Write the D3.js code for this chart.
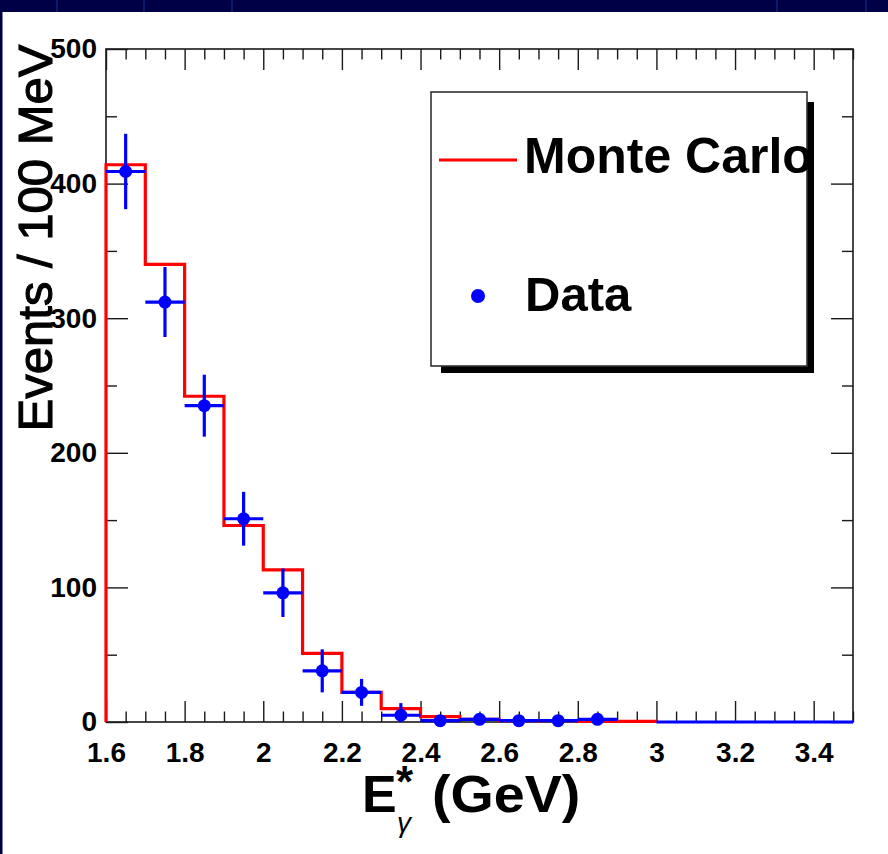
<!DOCTYPE html>
<html>
<head>
<meta charset="utf-8">
<script src="https://cdn.jsdelivr.net/npm/d3@7/dist/d3.min.js"></script>
<style>
  html, body { margin: 0; padding: 0; background: #ffffff; }
  svg { display: block; }
  text { font-family: "Liberation Sans", Arial, Helvetica, sans-serif; }
</style>
</head>
<body>
<svg id="chart" width="888" height="854"></svg>
<script>
// Photon energy spectrum: 100 MeV bins from 1.6 to 3.5 GeV
const binEdges = [1.6, 1.7, 1.8, 1.9, 2.0, 2.1, 2.2, 2.3, 2.4, 2.5, 2.6, 2.7, 2.8, 2.9, 3.0, 3.1, 3.2, 3.3, 3.4, 3.5];

// Monte Carlo expectation (bins 1.6 - 3.0 GeV)
const mcCounts = [414, 340, 242, 146, 113, 51, 22, 10, 4, 2, 1, 1, 0.5, 0.5];

// Measured events and statistical errors (null = bin not drawn)
const dataCounts = [409, 312, 235, 151, 96, 38, 22, 5, 1, 2, 1, 1, 2, null, 0, 0, 0, 0, 0];
const dataErrors = [28, 26, 23, 20, 18, 16, 10, 9, 1, 1.5, 1, 1, 1.5, null, 0, 0, 0, 0, 0];

// Axis ticks
const xMajorTicks = [1.6, 1.8, 2.0, 2.2, 2.4, 2.6, 2.8, 3.0, 3.2, 3.4];
const xTickLabels = ["1.6", "1.8", "2", "2.2", "2.4", "2.6", "2.8", "3", "3.2", "3.4"];
const yMajorTicks = [0, 100, 200, 300, 400, 500];
const yTickLabels = ["0", "100", "200", "300", "400", "500"];

const legendLabels = ["Monte Carlo", "Data"];

const svg = d3.select("#chart");
const W = 888, H = 854;

// slide background around the white canvas
svg.append("rect").attr("width", W).attr("height", H).attr("fill", "#ffffff");
svg.append("rect").attr("x", 0).attr("y", 0).attr("width", W).attr("height", 12).attr("fill", "#000046");
svg.append("rect").attr("x", 0).attr("y", 0).attr("width", 2.5).attr("height", H).attr("fill", "#000046");
[57, 144, 232, 777, 866].forEach(px => {
  svg.append("line").attr("x1", px).attr("x2", px).attr("y1", 0).attr("y2", 12)
    .attr("stroke", "#1c3a8c").attr("stroke-width", 1.2).attr("opacity", 0.8);
});

const frame = { left: 106, right: 853, top: 49, bottom: 722 };
const x = d3.scaleLinear().domain([1.6, 3.5]).range([frame.left, frame.right]);
const y = d3.scaleLinear().domain([0, 500]).range([frame.bottom, frame.top]);

const xMinor = d3.range(1.6, 3.5001, 0.05).map(v => +v.toFixed(2)).filter(v => !xMajorTicks.some(m => Math.abs(m - v) < 1e-6));
const yMinor = d3.range(50, 500, 100);

const xLen = 21, yLen = 22;
const axisColor = "#1a1a1a";

function styleAxis(g) {
  g.select(".domain").remove();
  g.selectAll(".tick line").attr("stroke", axisColor).attr("stroke-width", 1.4);
  g.selectAll(".tick text").attr("fill", "#000").attr("font-size", 28).attr("font-weight", "bold");
}

// bottom axis with labels
svg.append("g").attr("transform", `translate(0,${frame.bottom})`)
  .call(d3.axisBottom(x).tickValues(xMajorTicks).tickSize(-xLen).tickPadding(20)
    .tickFormat((d, i) => xTickLabels[i]))
  .call(styleAxis);
svg.append("g").attr("transform", `translate(0,${frame.bottom})`)
  .call(d3.axisBottom(x).tickValues(xMinor).tickSize(-xLen / 2).tickFormat(""))
  .call(styleAxis);
// top axis (ticks only)
svg.append("g").attr("transform", `translate(0,${frame.top})`)
  .call(d3.axisTop(x).tickValues(xMajorTicks).tickSize(-xLen).tickFormat(""))
  .call(styleAxis);
svg.append("g").attr("transform", `translate(0,${frame.top})`)
  .call(d3.axisTop(x).tickValues(xMinor).tickSize(-xLen / 2).tickFormat(""))
  .call(styleAxis);

// left axis with labels
svg.append("g").attr("transform", `translate(${frame.left},0)`)
  .call(d3.axisLeft(y).tickValues(yMajorTicks).tickSize(-yLen).tickPadding(9)
    .tickFormat((d, i) => yTickLabels[i]))
  .call(styleAxis);
svg.append("g").attr("transform", `translate(${frame.left},0)`)
  .call(d3.axisLeft(y).tickValues(yMinor).tickSize(-yLen / 2).tickFormat(""))
  .call(styleAxis);
// right axis (ticks only)
svg.append("g").attr("transform", `translate(${frame.right},0)`)
  .call(d3.axisRight(y).tickValues(yMajorTicks).tickSize(-yLen).tickFormat(""))
  .call(styleAxis);
svg.append("g").attr("transform", `translate(${frame.right},0)`)
  .call(d3.axisRight(y).tickValues(yMinor).tickSize(-yLen / 2).tickFormat(""))
  .call(styleAxis);

// frame
svg.append("rect")
  .attr("x", frame.left).attr("y", frame.top)
  .attr("width", frame.right - frame.left).attr("height", frame.bottom - frame.top)
  .attr("fill", "none").attr("stroke", axisColor).attr("stroke-width", 1.6);

// Monte Carlo histogram outline
const mcPts = [[binEdges[0], 0]];
mcCounts.forEach((c, i) => {
  mcPts.push([binEdges[i], c]);
  mcPts.push([binEdges[i + 1], c]);
});
mcPts.push([binEdges[mcCounts.length], 0]);
svg.append("path")
  .attr("d", d3.line().x(d => x(d[0])).y(d => y(d[1]))(mcPts))
  .attr("fill", "none").attr("stroke", "#ff0000").attr("stroke-width", 3.2)
  .attr("stroke-linejoin", "miter");

// data points with error bars
const blue = "#0000ff";
const dataG = svg.append("g");
dataCounts.forEach((c, i) => {
  if (c === null) return;
  const x0 = binEdges[i], x1 = binEdges[i + 1], xc = (x0 + x1) / 2;
  const e = dataErrors[i];
  dataG.append("line")
    .attr("x1", x(x0)).attr("x2", x(x1)).attr("y1", y(c)).attr("y2", y(c))
    .attr("stroke", blue).attr("stroke-width", 3.2);
  if (c > 0) {
    dataG.append("line")
      .attr("x1", x(xc)).attr("x2", x(xc))
      .attr("y1", y(Math.max(0, c - e))).attr("y2", y(c + e))
      .attr("stroke", blue).attr("stroke-width", 3.2);
    dataG.append("circle")
      .attr("cx", x(xc)).attr("cy", y(c)).attr("r", 6.5).attr("fill", blue);
  }
});

// legend
const lg = { x: 431, y: 92, w: 376, h: 274 };
svg.append("rect")
  .attr("x", lg.x + 10).attr("y", lg.y + 10).attr("width", lg.w - 3).attr("height", lg.h - 3)
  .attr("fill", "#000");
svg.append("rect")
  .attr("x", lg.x).attr("y", lg.y).attr("width", lg.w).attr("height", lg.h)
  .attr("fill", "#fff").attr("stroke", "#333").attr("stroke-width", 1.6);
svg.append("line")
  .attr("x1", 439).attr("x2", 517).attr("y1", 160).attr("y2", 160)
  .attr("stroke", "#ff0000").attr("stroke-width", 3);
svg.append("text").attr("x", 524).attr("y", 173)
  .attr("font-size", 50).attr("font-weight", "bold").attr("fill", "#000")
  .text(legendLabels[0]);
svg.append("circle").attr("cx", 478).attr("cy", 296).attr("r", 7).attr("fill", blue);
svg.append("text").attr("x", 525).attr("y", 311)
  .attr("font-size", 49).attr("font-weight", "bold").attr("fill", "#000")
  .text(legendLabels[1]);

// y axis title (regular face, slightly thickened)
svg.append("text")
  .attr("transform", "translate(52,238) rotate(-90)")
  .attr("text-anchor", "middle")
  .attr("font-size", 49).attr("fill", "#000")
  .attr("stroke", "#000").attr("stroke-width", 1.1)
  .text("Events / 100 MeV");

// x axis title: E*_gamma (GeV)
const xt = svg.append("g");
xt.append("text").attr("x", 362).attr("y", 812)
  .attr("font-size", 52).attr("font-weight", "bold").attr("fill", "#000").text("E");
xt.append("text").attr("x", 396).attr("y", 797)
  .attr("font-size", 44).attr("font-weight", "bold").attr("fill", "#000").text("*");
xt.append("text").attr("x", 397).attr("y", 832)
  .attr("font-size", 28).attr("font-style", "italic")
  .attr("font-family", "'DejaVu Serif', 'Liberation Serif', serif").attr("fill", "#000").text("γ");
xt.append("text").attr("transform", "translate(432,812) scale(1.07,1)")
  .attr("font-size", 52).attr("font-weight", "bold").attr("fill", "#000").text("(GeV)");
</script>
</body>
</html>
